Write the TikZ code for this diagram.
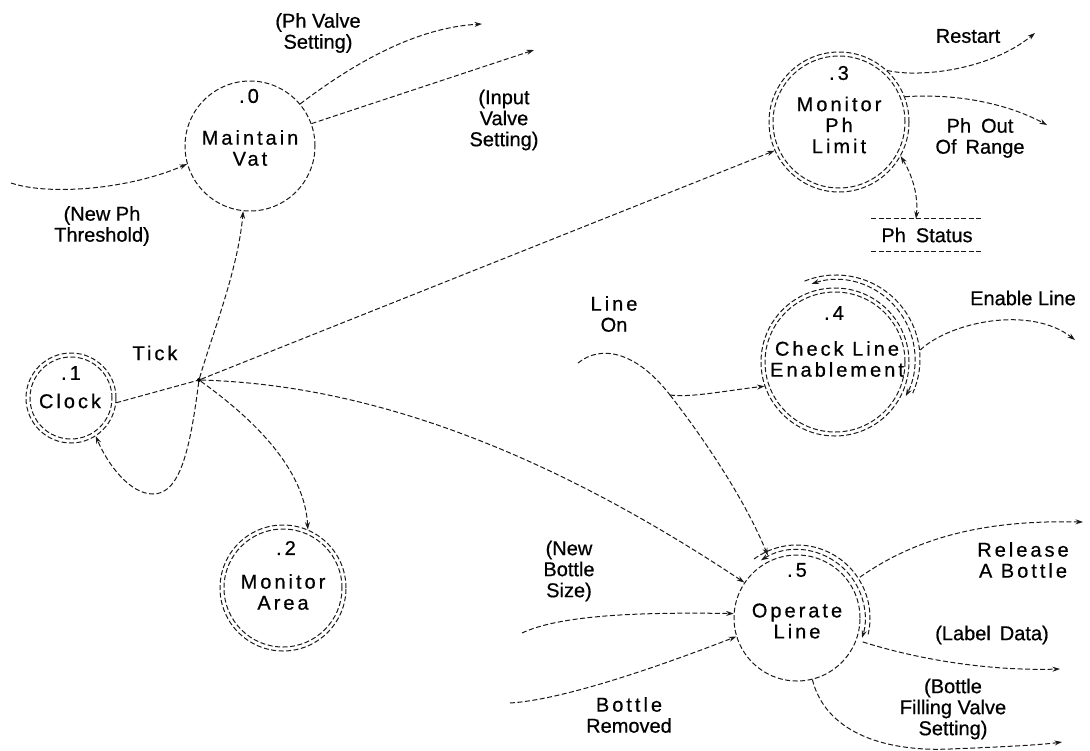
\documentclass[tikz,border=0pt]{standalone}
\usepackage{fontspec}
\setmainfont{Liberation Sans}[FakeBold=0.6]
\newfontfamily\spaced[LetterSpace=15,FakeBold=0.6]{Liberation Sans}
\usetikzlibrary{arrows.meta}
\begin{document}
\begin{tikzpicture}[x=1pt,y=1pt,
  >={Stealth[length=7.5pt,width=5pt]},
  flow/.style={draw=black!90, line width=1pt, dash pattern=on 5pt off 2.5pt},
  arr/.style={flow, ->},
  proc/.style={circle, flow, minimum size=#1, inner sep=0pt},
  txt/.style={font=\fontsize{20}{21}\selectfont, align=center, inner sep=0pt},
  stxt/.style={font=\fontsize{20}{21}\selectfont\spaced, align=center, inner sep=0pt},
  junction/.style={circle, fill=black, inner sep=0pt, minimum size=4pt}]

\fill[white] (0,0) rectangle (1090,-750);
\useasboundingbox (0,0) rectangle (1090,-750);

% ---------- processes ----------
\node[proc=130] (vat) at (250,-146) {};
\node[stxt] (vat-n) at (249,-96) {.0};
\node[stxt] (vat-t) at (250,-148) {Maintain\\Vat};

\node[proc=90] (clock) at (71,-398) {};
\draw[flow] (clock.center) circle (41);
\node[stxt] (clock-n) at (71,-373) {.1};
\node[stxt] (clock-t) at (70,-401) {Clock};

\node[proc=126] (area) at (283,-588) {};
\draw[flow] (area.center) circle (59);
\node[stxt] (area-n) at (286,-548) {.2};
\node[stxt] (area-t) at (283,-592) {Monitor\\Area};

\node[proc=140] (phlim) at (839,-122) {};
\draw[flow] (phlim.center) circle (66);
\node[stxt] (phlim-n) at (839,-73) {.3};
\node[stxt] (phlim-t) at (839,-125) {Monitor\\Ph\\Limit};

\node[proc=148] (chk) at (835,-362) {};
\draw[flow] (chk.center) circle (70);
\node[stxt] (chk-n) at (834,-313) {.4};
\node[stxt] (chk-t) at (837,-359) {Check Line\\Enablement};
\coordinate (chk-c) at ([shift={(1pt,3pt)}]chk.center);
\draw[flow,<->] ([shift={(108:79pt)}]chk-c) arc[start angle=108, end angle=-28, radius=79pt];
\draw[flow] ([shift={(112:84pt)}]chk-c) arc[start angle=112, end angle=-24, radius=84pt];

\node[proc=126] (op) at (797,-618) {};
\node[stxt] (op-n) at (797,-570) {.5};
\node[stxt] (op-t) at (797,-621) {Operate\\Line};
\draw[flow,<->] ([shift={(122:68pt)}]op.center) arc[start angle=122, end angle=-17, radius=68pt];
\draw[flow] ([shift={(126:73pt)}]op.center) arc[start angle=126, end angle=-13, radius=73pt];

% ---------- data store ----------
\node[txt, minimum width=111pt, minimum height=32pt] (phst) at (927,-235) {Ph\hspace{0.5em}Status};
\draw[flow] (phst.north west) -- (phst.north east);
\draw[flow] (phst.south west) -- (phst.south east);

% ---------- clock tick distribution ----------
\node[junction] (hub) at (199,-380) {};
\node[stxt] (tick) at (155,-353) {Tick};
\coordinate (loop-low) at (153,-494);
\draw[flow] (clock.354) -- (hub);
\draw[arr] (hub) .. controls (212,-335) and (238,-270) .. (vat.264);
\draw[arr] (hub) .. controls (190,-450) and (180,-494) .. (loop-low)
                 .. controls (130,-494) and (108,-465) .. (clock.303);
\draw[arr] (hub) .. controls (255,-420) and (305,-470) .. (area.67);
\draw[arr] (hub) -- (phlim.204);
\draw[arr] (hub) .. controls (380,-385) and (560,-460) .. (op.146);

% ---------- Maintain Vat flows ----------
\coordinate (nph-start) at (11,-183);
\draw[arr] (nph-start) .. controls (50,-196) and (130,-189) .. (vat.196);
\node[txt] (nph) at (102,-226) {(New Ph\\Threshold)};

\coordinate (phv-end) at (482,-24);
\draw[arr] (vat.40) .. controls (345,-70) and (410,-28) .. (phv-end);
\node[txt] (phv) at (318,-33) {(Ph Valve\\Setting)};

\coordinate (iv-end) at (534,-50);
\draw[arr] (vat.20) -- (iv-end);
\node[txt] (iv) at (504,-120) {(Input\\Valve\\Setting)};

% ---------- Monitor Ph Limit flows ----------
\coordinate (rs-end) at (1035,-33);
\draw[arr] (phlim.47) .. controls (920,-78) and (990,-70) .. (rs-end);
\node[txt] (restart) at (968,-36) {Restart};

\coordinate (po-end) at (1047,-125);
\draw[arr] (phlim.21) .. controls (960,-93) and (1010,-105) .. (po-end);
\node[txt] (phout) at (980,-138) {Ph\hspace{0.5em}Out\\Of\hspace{0.45em}Range};

\draw[flow,<->] (phlim.331) .. controls (915,-180) and (918,-200) .. ([xshift=-11pt]phst.north);

% ---------- line enablement ----------
\coordinate (lo-start) at (578,-363);
\coordinate (lo-split) at (670,-395);
\draw[flow] (lo-start) .. controls (600,-345) and (635,-350) .. (lo-split);
\draw[arr] (lo-split) .. controls (705,-440) and (745,-500) .. ([shift={(115:69pt)}]op.center);
\draw[arr] (lo-split) .. controls (690,-398) and (730,-390) .. (chk.199);
\node[txt] (lineon) at (614,-314) {{\spaced Line}\\On};

\coordinate (en-start) at ([shift={(8:86pt)}]chk.center);
\coordinate (en-end) at (1075,-340);
\draw[arr] (en-start) .. controls (950,-322) and (1030,-305) .. (en-end);
\node[txt] (enable) at (1023,-298) {Enable Line};

% ---------- Operate Line flows ----------
\coordinate (nbs-start) at (522,-633);
\draw[arr] (nbs-start) .. controls (560,-615) and (640,-612) .. (op.176);
\node[txt] (nbs) at (569,-571) {(New\\Bottle\\Size)};

\coordinate (br-start) at (510,-703);
\draw[arr] (br-start) .. controls (560,-700) and (650,-670) .. (op.197);
\node[txt] (brem) at (629,-715) {{\spaced Bottle}\\Removed};

\coordinate (rel-start) at ([shift={(33:75pt)}]op.center);
\coordinate (rel-end) at (1083,-522);
\draw[arr] (rel-start) .. controls (920,-535) and (990,-520) .. (rel-end);
\node[stxt] (rel) at (1023,-560) {Release\\A Bottle};

\coordinate (ld-start) at ([shift={(340:70pt)}]op.center);
\coordinate (ld-end) at (1060,-669);
\draw[arr] (ld-start) .. controls (920,-660) and (990,-671) .. (ld-end);
\node[txt] (ld) at (992,-635) {(Label\hspace{0.45em}Data)};

\coordinate (bf-mid) at (950,-749);
\coordinate (bf-end) at (1062,-742);
\draw[arr] (op.284) .. controls (825,-730) and (880,-752) .. (bf-mid)
                     .. controls (1000,-747) and (1040,-745) .. (bf-end);
\node[txt] (bf) at (953,-709) {(Bottle\\Filling Valve\\Setting)};

\end{tikzpicture}
\end{document}
